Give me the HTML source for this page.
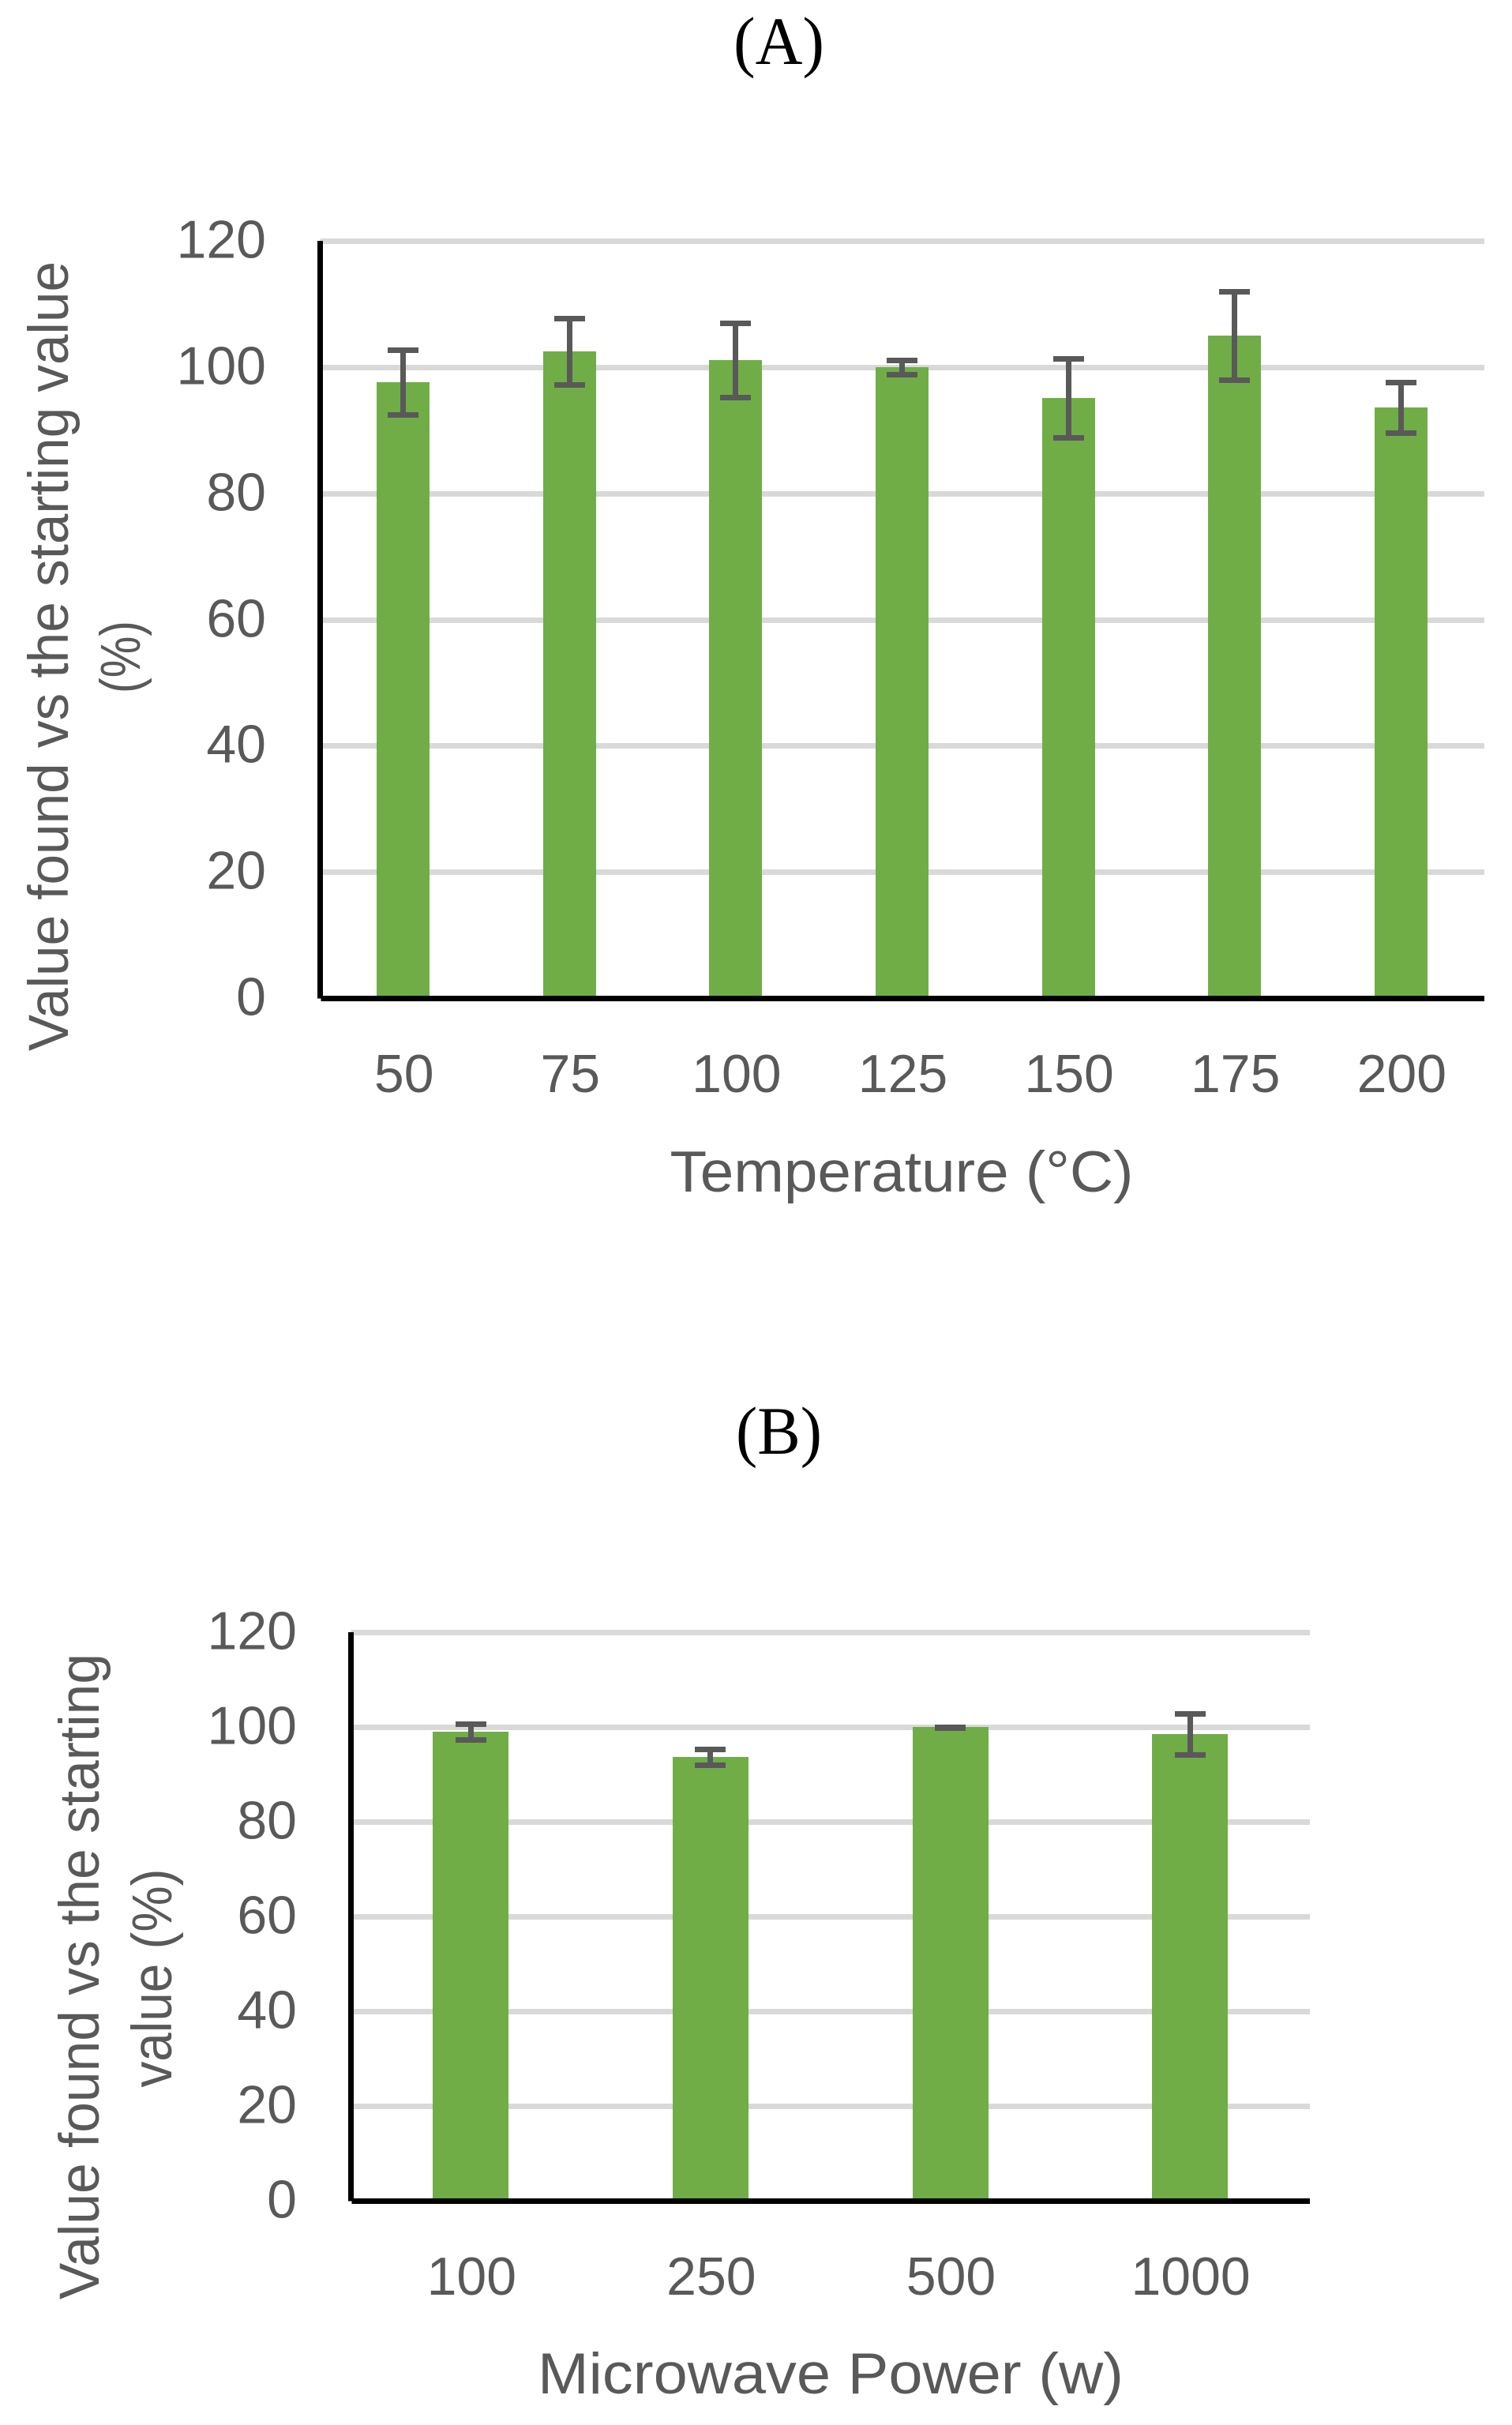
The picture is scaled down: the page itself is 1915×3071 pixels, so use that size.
<!DOCTYPE html>
<html lang="en">
<head>
<meta charset="utf-8">
<title>Value found vs the starting value</title>
<style>
html,body{margin:0;padding:0;background:#fff;}
svg{display:block;}
.sans{font-family:"Liberation Sans",sans-serif;fill:#595959;}
.serif{font-family:"Liberation Serif",serif;fill:#000;}
</style>
</head>
<body>
<svg id="figure" xmlns="http://www.w3.org/2000/svg" width="1915" height="3071" viewBox="0 0 1915 3071">
  <rect x="0" y="0" width="1915" height="3071" fill="#ffffff"/>
  <text class="serif" x="986.5" y="81" font-size="86" text-anchor="middle" textLength="115" lengthAdjust="spacingAndGlyphs">(A)</text>
  <text class="serif" x="986.5" y="1841" font-size="86" text-anchor="middle" textLength="109" lengthAdjust="spacingAndGlyphs">(B)</text>

  <g id="chart-a"></g>
  <g id="chart-b"></g>

  <text class="sans" font-size="71" text-anchor="middle" textLength="1000" lengthAdjust="spacingAndGlyphs" transform="translate(86,831) rotate(-90)">Value found vs the starting value</text>
  <text class="sans" font-size="71" text-anchor="middle" textLength="92" lengthAdjust="spacingAndGlyphs" transform="translate(177,832) rotate(-90)">(%)</text>
  <text class="sans" x="1142" y="1509" font-size="73" text-anchor="middle" textLength="587" lengthAdjust="spacingAndGlyphs">Temperature (°C)</text>

  <text class="sans" font-size="71" text-anchor="middle" textLength="818" lengthAdjust="spacingAndGlyphs" transform="translate(125,2503) rotate(-90)">Value found vs the starting</text>
  <text class="sans" font-size="71" text-anchor="middle" textLength="277" lengthAdjust="spacingAndGlyphs" transform="translate(217,2505) rotate(-90)">value (%)</text>
  <text class="sans" x="1052" y="3031" font-size="73" text-anchor="middle" textLength="742" lengthAdjust="spacingAndGlyphs">Microwave Power (w)</text>
</svg>

<script>
var yTickValues = [0, 20, 40, 60, 80, 100, 120];

var tempCategories = ['50', '75', '100', '125', '150', '175', '200'];
var tempValues = [97.66, 102.54, 101.17, 100.04, 95.16, 105.05, 93.66];
var tempErrHigh = [102.73, 107.74, 106.98, 101.1, 101.36, 111.99, 97.6];
var tempErrLow = [92.47, 97.23, 95.22, 98.85, 88.84, 97.98, 89.59];

var powerCategories = ['100', '250', '500', '1000'];
var powerValues = [99.08, 93.75, 100.08, 98.58];
var powerErrHigh = [100.67, 95.33, 100, 102.83];
var powerErrLow = [97.33, 92, 99.83, 94.17];

var SVG_NS = 'http://www.w3.org/2000/svg';

function make(parent, tag, attrs) {
  var el = document.createElementNS(SVG_NS, tag);
  Object.keys(attrs).forEach(function (k) { el.setAttribute(k, attrs[k]); });
  parent.appendChild(el);
  return el;
}

function snap(v) { return Math.round(v - 0.5) + 0.5; }

function drawChart(rootId, cfg, categories, values, errHigh, errLow) {
  var root = document.getElementById(rootId);
  var yMax = yTickValues[yTickValues.length - 1];
  function yScale(v) { return cfg.yZero - v * (cfg.yZero - cfg.yTop) / yMax; }
  function xScale(i) { return cfg.xLeft + cfg.band * (i + 0.5); }

  yTickValues.forEach(function (t) {
    var y = snap(yScale(t));
    if (t !== 0) {
      var grid = make(root, 'line', { x1: cfg.xLeft, x2: cfg.gridEnd, y1: y, y2: y, stroke: '#d9d9d9', 'stroke-width': 7, 'shape-rendering': 'crispEdges' });
      
      
    }
    var label = make(root, 'text', { x: cfg.tickRight, y: y + 21, 'font-size': 68, 'text-anchor': 'end', class: 'sans' });
    
    
    label.textContent = String(t);
  });

  categories.forEach(function (c, i) {
    var cx = xScale(i);
    var top = Math.round(yScale(values[i]));
    var bar = make(root, 'rect', { x: Math.round(cx - cfg.barWidth / 2), y: top, width: cfg.barWidth, height: cfg.yZero - top, fill: '#70ad47', 'shape-rendering': 'crispEdges' });
    
    

    var hi = snap(yScale(errHigh[i]));
    var lo = snap(yScale(errLow[i]));
    var ex = snap(cx);
    var stem = make(root, 'line', { x1: ex, x2: ex, y1: hi, y2: lo, stroke: '#595959', 'stroke-width': 7, 'shape-rendering': 'crispEdges' });
    
    
    var capHigh = make(root, 'line', { x1: ex - 19.5, x2: ex + 19.5, y1: hi, y2: hi, stroke: '#595959', 'stroke-width': 7, 'shape-rendering': 'crispEdges' });
    
    
    var capLow = make(root, 'line', { x1: ex - 19.5, x2: ex + 19.5, y1: lo, y2: lo, stroke: '#595959', 'stroke-width': 7, 'shape-rendering': 'crispEdges' });
    
    

    var xLabel = make(root, 'text', { x: cx + 1, y: cfg.xLabelY, 'font-size': 68, 'text-anchor': 'middle', class: 'sans' });
    
    
    xLabel.textContent = c;
  });

  var axisX = snap(cfg.xLeft);
  var yAxis = make(root, 'line', { x1: axisX, x2: axisX, y1: cfg.yTop - 0.5, y2: cfg.yZero, stroke: '#000000', 'stroke-width': 7, 'shape-rendering': 'crispEdges' });
  
  
  var xAxis = make(root, 'line', { x1: axisX + 1, x2: cfg.gridEnd, y1: cfg.yZero, y2: cfg.yZero, stroke: '#000000', 'stroke-width': 7, 'shape-rendering': 'crispEdges' });
  
  
}

drawChart('chart-a',
  { xLeft: 405.4, band: 210.6, gridEnd: 1880, yTop: 305.5, yZero: 1264.5, barWidth: 67, tickRight: 337, xLabelY: 1383 },
  tempCategories, tempValues, tempErrHigh, tempErrLow);

drawChart('chart-b',
  { xLeft: 444.5, band: 303.6, gridEnd: 1659, yTop: 2067.5, yZero: 2787.5, barWidth: 96, tickRight: 376, xLabelY: 2906 },
  powerCategories, powerValues, powerErrHigh, powerErrLow);
</script>
</body>
</html>
